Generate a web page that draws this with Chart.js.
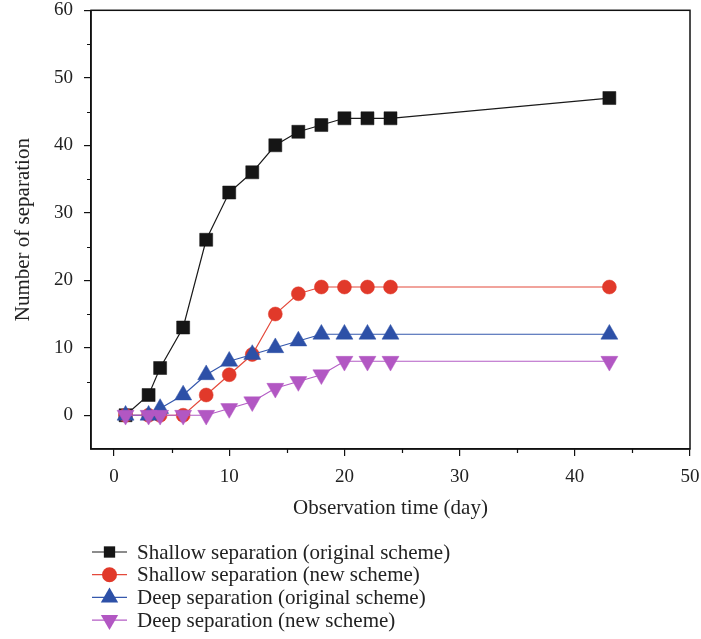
<!DOCTYPE html>
<html>
<head>
<meta charset="utf-8">
<script src="https://cdn.jsdelivr.net/npm/chart.js@4.4.1/dist/chart.umd.min.js"></script>
<style>
  html, body { margin: 0; padding: 0; background: #fff; }
</style>
</head>
<body>
<canvas id="myChart" width="701" height="639"></canvas>
<script>
// observation days and separation counts per scheme
const days = [1, 3, 4, 6, 8, 10, 12, 14, 16, 18, 20, 22, 24, 43];
const shallowOriginal = [0, 3, 7, 13, 26, 33, 36, 40, 42, 43, 44, 44, 44, 47];
const shallowNew = [0, 0, 0, 0, 3, 6, 9, 15, 18, 19, 19, 19, 19, 19];
const deepOriginal = [0, 0, 1, 3, 6, 8, 9, 10, 11, 12, 12, 12, 12, 12];
const deepNew = [0, 0, 0, 0, 0, 1, 2, 4, 5, 6, 8, 8, 8, 8];

const seriesNames = [
  'Shallow separation (original scheme)',
  'Shallow separation (new scheme)',
  'Deep separation (original scheme)',
  'Deep separation (new scheme)'
];
const xTicks = [0, 10, 20, 30, 40, 50];
const yTicks = [0, 10, 20, 30, 40, 50, 60];

const FONT = "'Liberation Serif', 'Times New Roman', serif";

function pts(ys) {
  return days.map((d, i) => ({ x: d, y: ys[i] }));
}

function series(label, ys, color, line, style, radius, rotation, order) {
  return {
    label: label,
    data: pts(ys),
    borderColor: line,
    backgroundColor: color,
    borderWidth: 1.2,
    pointStyle: style,
    pointRadius: radius,
    pointRotation: rotation,
    pointBackgroundColor: color,
    pointBorderColor: color,
    pointBorderWidth: 0.5,
    pointHoverRadius: radius,
    tension: 0,
    order: order
  };
}

// frame round the plot plus the short minor ticks
const frame = {
  id: 'frame',
  afterDraw(chart) {
    const { ctx, chartArea: a, scales: { x, y } } = chart;
    ctx.save();
    ctx.strokeStyle = '#111';
    ctx.lineWidth = 1.5;
    ctx.strokeRect(a.left, a.top, a.right - a.left, a.bottom - a.top);
    ctx.lineWidth = 1.2;
    ctx.beginPath();
    for (let v = 5; v < 50; v += 10) {
      const px = Math.round(x.getPixelForValue(v)) + 0.5;
      ctx.moveTo(px, a.bottom);
      ctx.lineTo(px, a.bottom + 4);
    }
    for (let v = 5; v < 60; v += 10) {
      const py = Math.round(y.getPixelForValue(v)) + 0.5;
      ctx.moveTo(a.left, py);
      ctx.lineTo(a.left - 4, py);
    }
    ctx.stroke();
    ctx.restore();
  }
};

// legend stacked under the x axis title
const stackLegend = {
  id: 'stackLegend',
  afterDraw(chart) {
    const ctx = chart.ctx;
    const sizes = [8, 7.5, 10, 10];
    ctx.save();
    chart.data.datasets.forEach((ds, i) => {
      const y = 552 + i * 22.7;
      ctx.strokeStyle = ds.borderColor;
      ctx.lineWidth = 1.2;
      ctx.beginPath();
      ctx.moveTo(92, y);
      ctx.lineTo(127, y);
      ctx.stroke();
      ctx.fillStyle = ds.pointBackgroundColor;
      Chart.helpers.drawPoint(ctx, {
        pointStyle: ds.pointStyle,
        radius: sizes[i],
        rotation: ds.pointRotation,
        borderWidth: 0
      }, 109.5, y);
      ctx.fillStyle = '#222';
      ctx.font = '21px ' + FONT;
      ctx.textAlign = 'left';
      ctx.textBaseline = 'middle';
      ctx.fillText(ds.label, 137, y + 1);
    });
    ctx.restore();
  }
};

const ctx = document.getElementById('myChart').getContext('2d');
new Chart(ctx, {
  type: 'line',
  data: {
    datasets: [
      series(seriesNames[0], shallowOriginal, '#151515', '#1a1a1a', 'rect', 9.2, 0, 4),
      series(seriesNames[1], shallowNew, '#e1392a', '#e4493b', 'circle', 7, 0, 3),
      series(seriesNames[2], deepOriginal, '#2d50a7', '#3558ad', 'triangle', 9.8, 0, 2),
      series(seriesNames[3], deepNew, '#b257c3', '#b45dc5', 'triangle', 9.8, 180, 1)
    ]
  },
  options: {
    responsive: false,
    animation: false,
    layout: { padding: { top: 9, right: 11, bottom: 109, left: 0 } },
    plugins: {
      legend: { display: false },
      tooltip: { enabled: false }
    },
    scales: {
      x: {
        type: 'linear',
        min: -2,
        max: 50,
        afterBuildTicks: s => { s.ticks = xTicks.map(v => ({ value: v })); },
        afterFit: s => { s.height = 81; s.paddingLeft = 0; s.paddingRight = 0; },
        grid: { drawOnChartArea: false, tickLength: 7, color: '#111', lineWidth: 1.2 },
        border: { color: '#111', width: 1.5 },
        ticks: { color: '#222', padding: 10, maxRotation: 0, font: { family: FONT, size: 19 } },
        title: {
          display: true,
          text: 'Observation time (day)',
          color: '#222',
          padding: { top: 0, bottom: 9 },
          font: { family: FONT, size: 21 }
        }
      },
      y: {
        type: 'linear',
        min: -5,
        max: 60,
        afterBuildTicks: s => { s.ticks = yTicks.map(v => ({ value: v })); },
        afterFit: s => { s.width = 91; s.paddingTop = 0; s.paddingBottom = 0; },
        grid: { drawOnChartArea: false, tickLength: 7, color: '#111', lineWidth: 1.2 },
        border: { color: '#111', width: 1.5 },
        ticks: { color: '#222', padding: 11, font: { family: FONT, size: 19 } },
        title: {
          display: true,
          text: 'Number of separation',
          color: '#222',
          padding: { top: 11, bottom: 0 },
          font: { family: FONT, size: 21 }
        }
      }
    }
  },
  plugins: [frame, stackLegend]
});
</script>
</body>
</html>
